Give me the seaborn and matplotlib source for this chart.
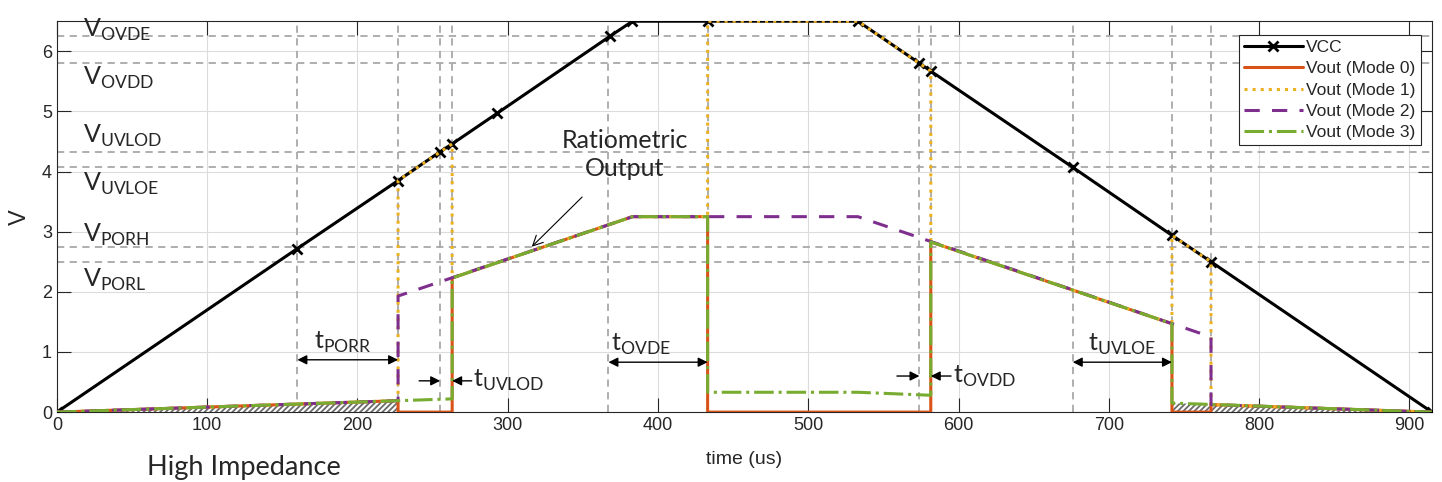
import matplotlib
matplotlib.use("Agg")
import matplotlib.pyplot as plt
import pandas as pd
import seaborn as sns

# ---- datos ----
vcc_t = [0, 160, 227, 255, 263, 293, 368, 383, 433, 533, 574, 581.5, 676, 742, 768, 915]
vcc_v = [0, 2.72, 3.85, 4.33, 4.46, 4.97, 6.25, 6.5, 6.5, 6.5, 5.80, 5.67, 4.07, 2.94, 2.50, 0]

m0_t = [0, 227, 227, 263, 263, 383, 433, 433, 581.5, 581.5, 742, 742, 768, 768, 915]
m0_v = [0, 0.19, 0, 0, 2.23, 3.25, 3.25, 0, 0, 2.83, 1.47, 0, 0, 0.125, 0]

m1_t = [0, 227, 227, 263, 263, 383, 433, 433, 533, 581.5, 581.5, 742, 742, 768, 768, 915]
m1_v = [0, 0.19, 3.85, 4.46, 2.23, 3.25, 3.25, 6.5, 6.5, 5.67, 2.83, 1.47, 2.94, 2.50, 0.125, 0]

m2_t = [0, 227, 227, 383, 533, 768, 768, 915]
m2_v = [0, 0.19, 1.93, 3.25, 3.25, 1.25, 0.125, 0]

m3_t = [0, 227, 263, 263, 383, 433, 433, 533, 581.5, 581.5, 742, 742, 915]
m3_v = [0, 0.19, 0.22, 2.23, 3.25, 3.25, 0.33, 0.33, 0.28, 2.83, 1.47, 0.15, 0]

# zonas de alta impedancia (rayadas)
hiz1_t = [0, 227]
hiz1_v = [0, 0.19]
hiz2_t = [742, 915]
hiz2_v = [0.15, 0]

# umbrales
umbral_v = [6.25, 5.80, 4.33, 4.07, 2.75, 2.50]
umbral_lbl = ["OVDE", "OVDD", "UVLOD", "UVLOE", "PORH", "PORL"]
umbral_lbl_y = [6.35, 5.55, 4.6, 3.8, 2.95, 2.2]
tiempos_t = [160, 227, 255, 263, 367, 433, 574, 581.5, 676, 742, 768]

series = [
    ("VCC", vcc_t, vcc_v, "black", "-"),
    ("Vout (Mode 0)", m0_t, m0_v, "#D95319", "-"),
    ("Vout (Mode 1)", m1_t, m1_v, "#EDB120", ":"),
    ("Vout (Mode 2)", m2_t, m2_v, "#7E2F8E", (0, (5, 4))),
    ("Vout (Mode 3)", m3_t, m3_v, "#77AC30", "-."),
]

sns.set_style("ticks")
plt.rcParams["font.family"] = ["Liberation Sans", "DejaVu Sans"]
plt.rcParams["hatch.linewidth"] = 1.3
anot_font = "Lato"
fs_anot = 18

fig = plt.figure(figsize=(14.42, 4.82), dpi=100)
ax = fig.add_axes([0.0395, 0.145, 0.9535, 0.811])

ax.grid(True, color="#dcdcdc", lw=0.8, zorder=0)

for v in umbral_v:
    ax.axhline(v, color="#a8a8a8", ls=(0, (4, 3)), lw=1.3, zorder=1)
for t in tiempos_t:
    ax.axvline(t, color="#a8a8a8", ls=(0, (4, 3)), lw=1.3, zorder=1)

for ht, hv in [(hiz1_t, hiz1_v), (hiz2_t, hiz2_v)]:
    ax.fill_between(ht, 0, hv, facecolor="white", edgecolor="#6a6a6a",
                    hatch="//////", linewidth=0, zorder=2)

for nombre, t, v, col, ls in series:
    df = pd.DataFrame({"t": t, "v": v})
    kw = {}
    if nombre == "VCC":
        kw = dict(marker="x", markersize=7, markeredgewidth=2,
                  markeredgecolor="black", markerfacecolor="black")
    sns.lineplot(data=df, x="t", y="v", sort=False, estimator=None, ax=ax,
                 color=col, linestyle=ls, lw=2.2, label=nombre, zorder=3, **kw)

ax.set_xlim(0, 915)
ax.set_ylim(0, 6.5)
ax.set_xticks(range(0, 901, 100))
ax.set_yticks(range(0, 7))
ax.tick_params(direction="in", length=10, top=True, right=True, labelsize=13,
               colors="#262626", width=0.8)
for s in ax.spines.values():
    s.set_color("#262626")
    s.set_linewidth(0.8)
ax.set_xlabel("time (us)", fontsize=14, labelpad=12)
ax.set_ylabel("V", fontsize=17, labelpad=8)

leg = ax.legend(loc="upper right", bbox_to_anchor=(0.992, 0.965), fontsize=12.5,
                frameon=True, fancybox=False, edgecolor="#262626", framealpha=1,
                handlelength=3.4, handletextpad=0.2, borderpad=0.3, labelspacing=0.35,
                borderaxespad=0)
leg.get_frame().set_linewidth(0.8)

# etiquetas de umbral
for lbl, y in zip(umbral_lbl, umbral_lbl_y):
    ax.text(17, y, "V$_{\\mathregular{%s}}$" % lbl, fontsize=fs_anot,
            family=anot_font, va="center", ha="left", clip_on=False)

ap2 = dict(arrowstyle="<|-|>", color="black", lw=1, mutation_scale=14, shrinkA=0, shrinkB=0)
ap1 = dict(arrowstyle="-|>", color="black", lw=1, mutation_scale=14, shrinkA=0, shrinkB=0)

# tPORR
ax.annotate("", xy=(160, 0.87), xytext=(227, 0.87), arrowprops=ap2)
ax.text(171, 0.95, "t$_{\\mathregular{PORR}}$", fontsize=fs_anot, family=anot_font, va="bottom")
# tUVLOD
ax.annotate("", xy=(255, 0.52), xytext=(241, 0.52), arrowprops=ap1)
ax.annotate("", xy=(263, 0.52), xytext=(276, 0.52), arrowprops=ap1)
ax.text(277, 0.52, "t$_{\\mathregular{UVLOD}}$", fontsize=fs_anot, family=anot_font, va="center")
# tOVDE
ax.annotate("", xy=(367, 0.83), xytext=(433, 0.83), arrowprops=ap2)
ax.text(369, 0.92, "t$_{\\mathregular{OVDE}}$", fontsize=fs_anot, family=anot_font, va="bottom")
# tOVDD
ax.annotate("", xy=(574, 0.6), xytext=(559, 0.6), arrowprops=ap1)
ax.annotate("", xy=(581.5, 0.6), xytext=(595, 0.6), arrowprops=ap1)
ax.text(596, 0.6, "t$_{\\mathregular{OVDD}}$", fontsize=fs_anot, family=anot_font, va="center")
# tUVLOE
ax.annotate("", xy=(676, 0.83), xytext=(742, 0.83), arrowprops=ap2)
ax.text(686, 0.92, "t$_{\\mathregular{UVLOE}}$", fontsize=fs_anot, family=anot_font, va="bottom")

# salida ratiometrica
ax.annotate("Ratiometric\nOutput", xy=(316, 2.75), xytext=(378, 4.28),
            fontsize=fs_anot, family=anot_font, ha="center", va="center",
            linespacing=1.25,
            arrowprops=dict(arrowstyle="->", color="black", lw=0.8, shrinkA=14, shrinkB=0))

ax.text(60, -0.92, "High Impedance", fontsize=fs_anot + 1.5, family=anot_font,
        va="center", ha="left", clip_on=False)

fig.savefig("out.png", dpi=100)
